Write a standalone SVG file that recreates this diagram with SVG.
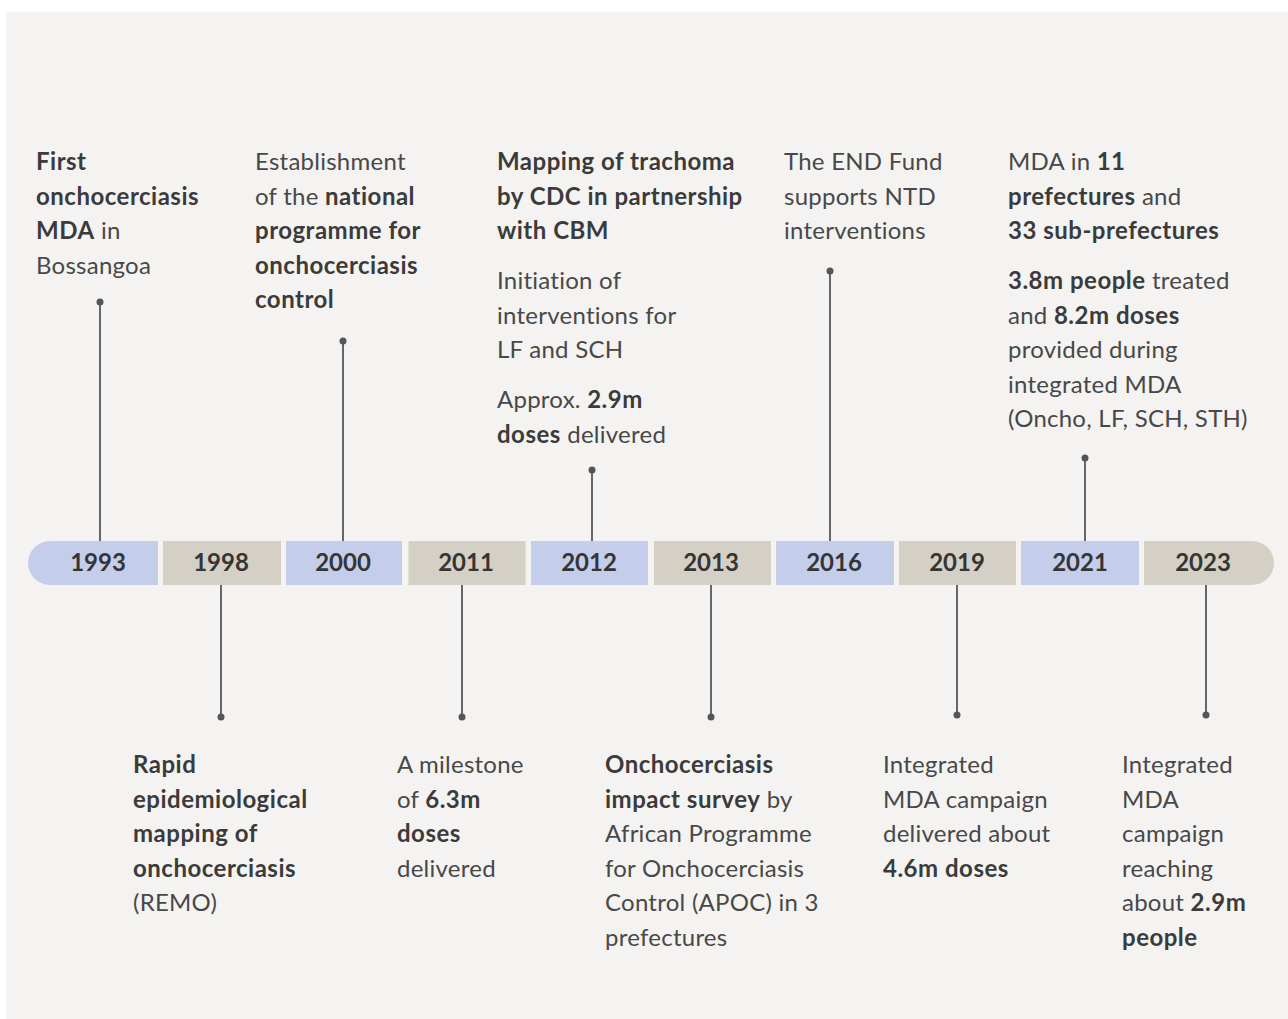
<svg xmlns="http://www.w3.org/2000/svg" width="1288" height="1019" viewBox="0 0 1288 1019">
<style>
.bg{fill:#f4f3f1}
.blue{fill:#c4ceeb}
.beige{fill:#d4d0c6}
.yr{font-family:Lato,"Noto Sans",sans-serif;font-weight:700;font-size:24px;fill:#353535;text-anchor:middle}
.t{font-family:Lato,"Noto Sans",sans-serif;font-size:24px;fill:#484848;letter-spacing:0.25px}
.b{font-weight:700;fill:#3b3b3b;letter-spacing:0.5px}
.ln{stroke:#666;stroke-width:2;fill:none}
.dot{fill:#555}
</style>
<rect x="0" y="0" width="1288" height="1019" fill="#ffffff"/>
<rect class="bg" x="6" y="12" width="1282" height="1007"/>

<g id="connectors">
<line class="ln" x1="100" y1="302" x2="100" y2="541"/><circle class="dot" cx="100" cy="302" r="3.5"/>
<line class="ln" x1="343" y1="341" x2="343" y2="541"/><circle class="dot" cx="343" cy="341" r="3.5"/>
<line class="ln" x1="592" y1="470" x2="592" y2="541"/><circle class="dot" cx="592" cy="470" r="3.5"/>
<line class="ln" x1="830" y1="271" x2="830" y2="541"/><circle class="dot" cx="830" cy="271" r="3.5"/>
<line class="ln" x1="1085" y1="458" x2="1085" y2="541"/><circle class="dot" cx="1085" cy="458" r="3.5"/>
<line class="ln" x1="221" y1="585" x2="221" y2="717"/><circle class="dot" cx="221" cy="717" r="3.5"/>
<line class="ln" x1="462" y1="585" x2="462" y2="717"/><circle class="dot" cx="462" cy="717" r="3.5"/>
<line class="ln" x1="711" y1="585" x2="711" y2="717"/><circle class="dot" cx="711" cy="717" r="3.5"/>
<line class="ln" x1="957" y1="585" x2="957" y2="715"/><circle class="dot" cx="957" cy="715" r="3.5"/>
<line class="ln" x1="1206" y1="585" x2="1206" y2="715"/><circle class="dot" cx="1206" cy="715" r="3.5"/>
</g>

<g id="y1993"><path class="blue" d="M50 541H158V585H50A22 22 0 0 1 50 541Z"/><text class="yr" x="98" y="571">1993</text></g>
<g id="y1998"><rect class="beige" x="163" y="541" width="118" height="44"/><text class="yr" x="221" y="571">1998</text></g>
<g id="y2000"><rect class="blue" x="286" y="541" width="116" height="44"/><text class="yr" x="343" y="571">2000</text></g>
<g id="y2011"><rect class="beige" x="408.5" y="541" width="117" height="44"/><text class="yr" x="466" y="571">2011</text></g>
<g id="y2012"><rect class="blue" x="531" y="541" width="117" height="44"/><text class="yr" x="589" y="571">2012</text></g>
<g id="y2013"><rect class="beige" x="654" y="541" width="117" height="44"/><text class="yr" x="711" y="571">2013</text></g>
<g id="y2016"><rect class="blue" x="776" y="541" width="118" height="44"/><text class="yr" x="834" y="571">2016</text></g>
<g id="y2019"><rect class="beige" x="899" y="541" width="117" height="44"/><text class="yr" x="957" y="571">2019</text></g>
<g id="y2021"><rect class="blue" x="1021" y="541" width="118" height="44"/><text class="yr" x="1080" y="571">2021</text></g>
<g id="y2023"><path class="beige" d="M1144 541H1252A22 22 0 0 1 1252 585H1144Z"/><text class="yr" x="1203" y="571">2023</text></g>

<g id="n1993">
<text class="t" x="36" y="170"><tspan class="b">First</tspan></text>
<text class="t" x="36" y="205"><tspan class="b">onchocerciasis</tspan></text>
<text class="t" x="36" y="239"><tspan class="b">MDA</tspan> in</text>
<text class="t" x="36" y="274">Bossangoa</text>
</g>
<g id="n2000">
<text class="t" x="255" y="170">Establishment</text>
<text class="t" x="255" y="205">of the <tspan class="b">national</tspan></text>
<text class="t" x="255" y="239"><tspan class="b">programme for</tspan></text>
<text class="t" x="255" y="274"><tspan class="b">onchocerciasis</tspan></text>
<text class="t" x="255" y="308"><tspan class="b">control</tspan></text>
</g>
<g id="n2012">
<text class="t" x="497" y="170"><tspan class="b">Mapping of trachoma</tspan></text>
<text class="t" x="497" y="205"><tspan class="b">by CDC in partnership</tspan></text>
<text class="t" x="497" y="239"><tspan class="b">with CBM</tspan></text>
<text class="t" x="497" y="289">Initiation of</text>
<text class="t" x="497" y="324">interventions for</text>
<text class="t" x="497" y="358">LF and SCH</text>
<text class="t" x="497" y="408">Approx. <tspan class="b">2.9m</tspan></text>
<text class="t" x="497" y="443"><tspan class="b">doses</tspan> delivered</text>
</g>
<g id="n2016">
<text class="t" x="784" y="170">The END Fund</text>
<text class="t" x="784" y="205">supports NTD</text>
<text class="t" x="784" y="239">interventions</text>
</g>
<g id="n2021">
<text class="t" x="1008" y="170">MDA in <tspan class="b">11</tspan></text>
<text class="t" x="1008" y="205"><tspan class="b">prefectures</tspan> and</text>
<text class="t" x="1008" y="239"><tspan class="b">33 sub-prefectures</tspan></text>
<text class="t" x="1008" y="289"><tspan class="b">3.8m people</tspan> treated</text>
<text class="t" x="1008" y="324">and <tspan class="b">8.2m doses</tspan></text>
<text class="t" x="1008" y="358">provided during</text>
<text class="t" x="1008" y="393">integrated MDA</text>
<text class="t" x="1008" y="427">(Oncho, LF, SCH, STH)</text>
</g>
<g id="n1998">
<text class="t" x="133" y="773"><tspan class="b">Rapid</tspan></text>
<text class="t" x="133" y="808"><tspan class="b">epidemiological</tspan></text>
<text class="t" x="133" y="842"><tspan class="b">mapping of</tspan></text>
<text class="t" x="133" y="877"><tspan class="b">onchocerciasis</tspan></text>
<text class="t" x="133" y="911">(REMO)</text>
</g>
<g id="n2011">
<text class="t" x="397" y="773">A milestone</text>
<text class="t" x="397" y="808">of <tspan class="b">6.3m</tspan></text>
<text class="t" x="397" y="842"><tspan class="b">doses</tspan></text>
<text class="t" x="397" y="877">delivered</text>
</g>
<g id="n2013">
<text class="t" x="605" y="773"><tspan class="b">Onchocerciasis</tspan></text>
<text class="t" x="605" y="808"><tspan class="b">impact survey</tspan> by</text>
<text class="t" x="605" y="842">African Programme</text>
<text class="t" x="605" y="877">for Onchocerciasis</text>
<text class="t" x="605" y="911">Control (APOC) in 3</text>
<text class="t" x="605" y="946">prefectures</text>
</g>
<g id="n2019">
<text class="t" x="883" y="773">Integrated</text>
<text class="t" x="883" y="808">MDA campaign</text>
<text class="t" x="883" y="842">delivered about</text>
<text class="t" x="883" y="877"><tspan class="b">4.6m doses</tspan></text>
</g>
<g id="n2023">
<text class="t" x="1122" y="773">Integrated</text>
<text class="t" x="1122" y="808">MDA</text>
<text class="t" x="1122" y="842">campaign</text>
<text class="t" x="1122" y="877">reaching</text>
<text class="t" x="1122" y="911">about <tspan class="b">2.9m</tspan></text>
<text class="t" x="1122" y="946"><tspan class="b">people</tspan></text>
</g>
</svg>
